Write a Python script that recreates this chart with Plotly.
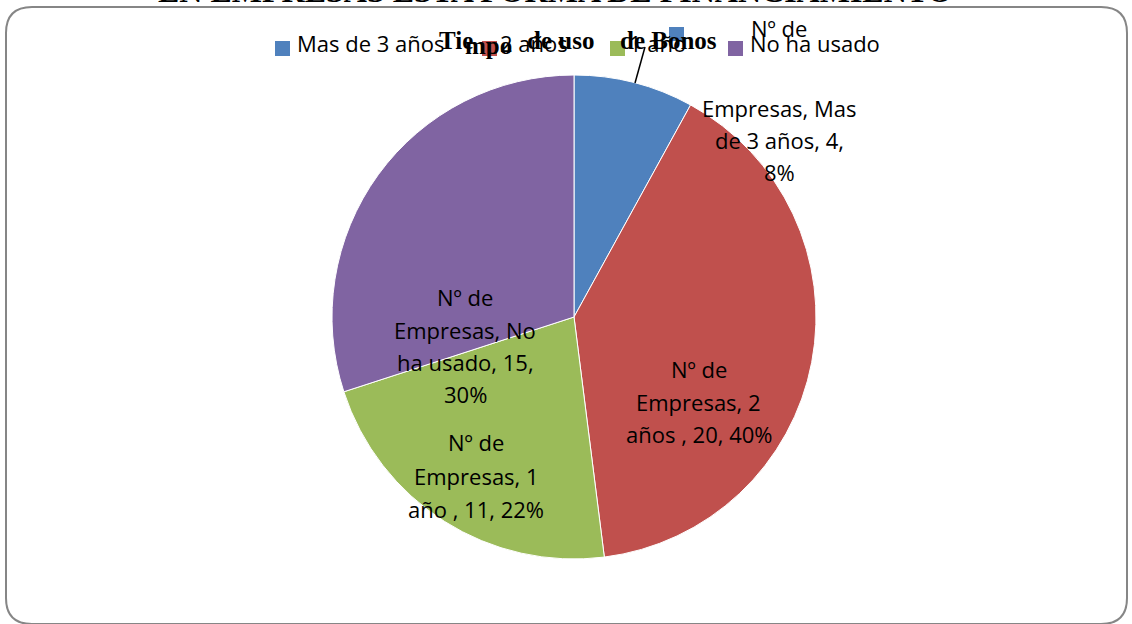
import textwrap
import plotly.graph_objects as go

# ---------------- data ----------------
categories = ["Mas de 3 años", "2 años ", "1 año ", "No ha usado"]
values = [4, 20, 11, 15]
series_name = "Nº de Empresas"
colors = ["#4F81BD", "#C0504D", "#9BBB59", "#8064A2"]
chart_title_parts = ["Tie", "mpo", "de uso", "de Bonos"]
heading_text = "EN EMPRESAS ESTA FORMA DE FINANCIAMIENTO"

W, H = 1132, 624


def px(x):
    return x / W


def py(y):
    return 1 - y / H


total = sum(values)
percents = [round(100 * v / total) for v in values]

# ---------------- pie ----------------
cx, cy, r = 574, 317, 242
fig = go.Figure(
    go.Pie(
        labels=[c.strip() for c in categories],
        values=values,
        sort=False,
        direction="clockwise",
        rotation=0,
        marker=dict(colors=colors, line=dict(color="white", width=1)),
        textinfo="none",
        hoverinfo="label+value+percent",
        showlegend=False,
        domain=dict(x=[px(cx - r), px(cx + r)], y=[py(cy + r), py(cy - r)]),
    )
)

annotations = []
shapes = []

# ---------------- data labels ----------------
wrap_widths = [13, 14, 13, 13]
label_x = [779, 699, 476, 465]
label_ys = [[28, 108, 140, 172], [369, 402, 434], [442, 476, 509], [297, 330, 362, 394]]
label_font = dict(family="Open Sans", size=22, color="black")
for i, (cat, v, p) in enumerate(zip(categories, values, percents)):
    full = f"{series_name}, {cat}, {v}, {p}%"
    lines = textwrap.wrap(full, width=wrap_widths[i])
    for ln, yy in zip(lines, label_ys[i]):
        annotations.append(dict(
            x=px(label_x[i]), y=py(yy), xref="paper", yref="paper",
            text=ln, showarrow=False, xanchor="center", yanchor="middle",
            font=label_font,
        ))

# leader line for the small slice label
shapes.append(dict(type="line", xref="paper", yref="paper",
                   x0=px(635), y0=py(83), x1=px(645), y1=py(47),
                   line=dict(color="black", width=1.5)))
# stray legend key in label
shapes.append(dict(type="rect", xref="paper", yref="paper",
                   x0=px(669), x1=px(684), y0=py(41), y1=py(27),
                   fillcolor=colors[0], line=dict(width=0)))

# ---------------- legend ----------------
sq_x = [275, 482, 610, 728]
txt_x = [295, 498, 627, 748]
for i, cat in enumerate(categories):
    shapes.append(dict(type="rect", xref="paper", yref="paper",
                       x0=px(sq_x[i]), x1=px(sq_x[i] + 15), y0=py(56), y1=py(41),
                       fillcolor=colors[i], line=dict(width=0)))
    annotations.append(dict(
        x=px(txt_x[i]), y=py(43), xref="paper", yref="paper",
        text=cat.strip(), showarrow=False, xanchor="left", yanchor="middle",
        font=label_font,
    ))

# ---------------- chart title (overlapping) ----------------
title_x = [437, 463, 525, 618]
title_y = [41, 46, 41, 41]
for t, xx, yy in zip(chart_title_parts, title_x, title_y):
    annotations.append(dict(
        x=px(xx), y=py(yy), xref="paper", yref="paper", text=t,
        showarrow=False, xanchor="left", yanchor="middle",
        font=dict(family="Liberation Serif", size=25, color="black", weight="bold"),
    ))

# cut-off heading at the very top
annotations.append(dict(
    x=px(555), y=py(10.5), xref="paper", yref="paper", text=heading_text,
    showarrow=False, xanchor="center", yanchor="bottom",
    font=dict(family="Liberation Serif", size=32, color="black", weight="bold"),
))

# ---------------- rounded frame ----------------
x0, x1, y0, y1, rr = 6, 1127, 7, 624, 26
path = (
    f"M {px(x0)},{py(y0 + rr)} "
    f"Q {px(x0)},{py(y0)} {px(x0 + rr)},{py(y0)} "
    f"L {px(x1 - rr)},{py(y0)} "
    f"Q {px(x1)},{py(y0)} {px(x1)},{py(y0 + rr)} "
    f"L {px(x1)},{py(y1 - rr)} "
    f"Q {px(x1)},{py(y1)} {px(x1 - rr)},{py(y1)} "
    f"L {px(x0 + rr)},{py(y1)} "
    f"Q {px(x0)},{py(y1)} {px(x0)},{py(y1 - rr)} Z"
)
shapes.insert(0, dict(type="path", xref="paper", yref="paper", path=path,
                      line=dict(color="#868686", width=2), fillcolor="rgba(0,0,0,0)",
                      layer="below"))

fig.update_layout(
    width=W, height=H,
    margin=dict(l=0, r=0, t=0, b=0),
    paper_bgcolor="white", plot_bgcolor="white",
    annotations=annotations, shapes=shapes,
    showlegend=False,
)

fig.write_html(
    "out.html",
    config={"displayModeBar": False},
    post_script="document.body.style.margin='0px';document.body.style.overflow='hidden';",
)
